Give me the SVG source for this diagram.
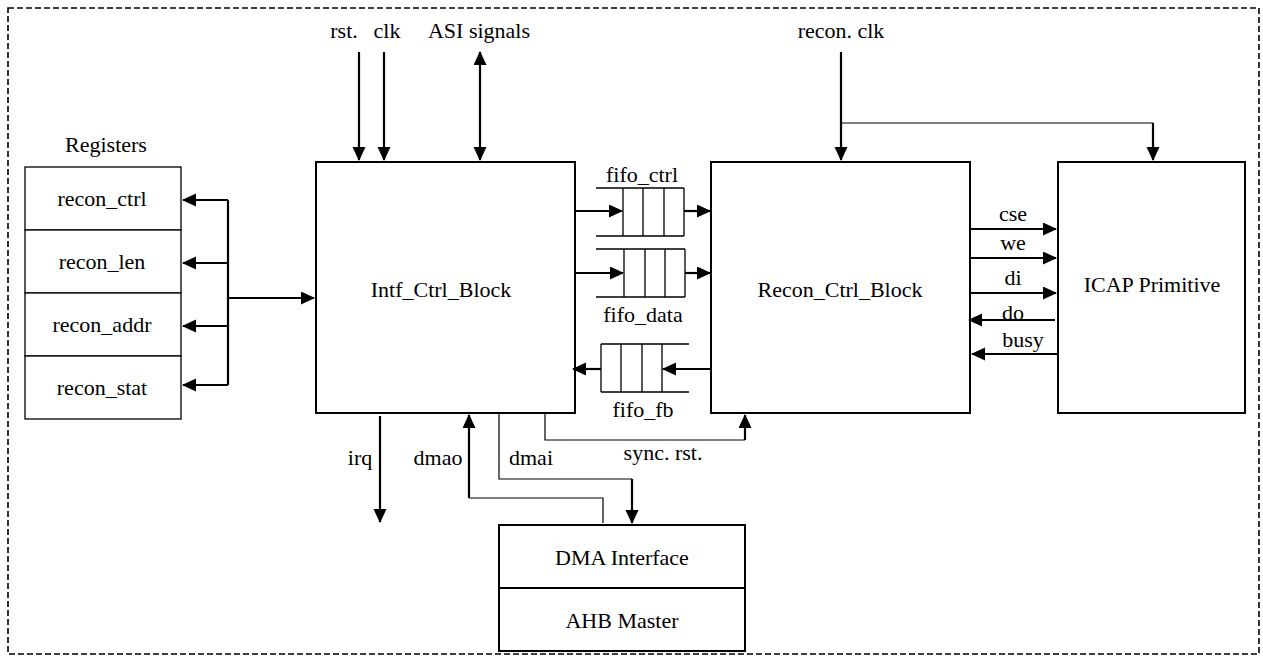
<svg xmlns="http://www.w3.org/2000/svg" width="1263" height="658" viewBox="0 0 1263 658">
<style>
text{font-family:"Liberation Serif","Times New Roman",serif;font-size:22px;fill:#000;text-anchor:middle}
.box{fill:#fff;stroke:#000;stroke-width:2}
.reg{fill:#fff;stroke:#000;stroke-width:1.3}
.fifo{fill:none;stroke:#000;stroke-width:1.3}
.thick{fill:none;stroke:#000;stroke-width:2.2}
.thin{fill:none;stroke:#000;stroke-width:1.2}
.arr{marker-end:url(#ah)}
</style>
<defs>
<marker id="ah" markerUnits="userSpaceOnUse" markerWidth="15" markerHeight="14" refX="13" refY="6.5" orient="auto-start-reverse">
<path d="M0,0 L14,6.5 L0,13 z" fill="#000"/>
</marker>
</defs>
<rect x="8" y="8" width="1251" height="646" fill="none" stroke="#000" stroke-width="1.6" stroke-dasharray="6,3"/>

<g id="registers">
<text x="106" y="152">Registers</text>
<rect class="reg" x="25" y="167" width="156" height="63"/>
<rect class="reg" x="25" y="230" width="156" height="63"/>
<rect class="reg" x="25" y="293" width="156" height="63"/>
<rect class="reg" x="25" y="356" width="156" height="63"/>
<text x="102" y="206">recon_ctrl</text>
<text x="102" y="269">recon_len</text>
<text x="102" y="332">recon_addr</text>
<text x="102" y="395">recon_stat</text>
</g>

<g id="intf_ctrl_block">
<rect class="box" x="316" y="162" width="259" height="251"/>
<text x="441" y="297">Intf_Ctrl_Block</text>
</g>

<g id="recon_ctrl_block">
<rect class="box" x="711" y="162" width="259" height="251"/>
<text x="840" y="297">Recon_Ctrl_Block</text>
</g>

<g id="icap_primitive">
<rect class="box" x="1058" y="162" width="187" height="251"/>
<text x="1152" y="292">ICAP Primitive</text>
</g>

<g id="dma">
<rect class="box" x="499" y="525" width="246" height="63"/>
<rect class="box" x="499" y="588" width="246" height="63"/>
<text x="622" y="565">DMA Interface</text>
<text x="622" y="628">AHB Master</text>
</g>

<g id="fifo_ctrl">
<text x="642" y="182">fifo_ctrl</text>
<path class="fifo" d="M596,188 H684 M596,236 H684 M623,188 V236 M643,188 V236 M664,188 V236 M684,188 V236"/>
</g>
<g id="fifo_data">
<text x="643" y="322">fifo_data</text>
<path class="fifo" d="M596,249 H685 M596,297 H685 M624,249 V297 M645,249 V297 M665,249 V297 M685,249 V297"/>
</g>
<g id="fifo_fb">
<text x="643" y="417">fifo_fb</text>
<path class="fifo" d="M601,344 H689 M601,392 H689 M601,344 V392 M621,344 V392 M642,344 V392 M662,344 V392"/>
</g>

<g id="labels">
<text x="344" y="38">rst.</text>
<text x="387" y="38">clk</text>
<text x="479" y="38">ASI signals</text>
<text x="841" y="38">recon. clk</text>
<text x="1013" y="221">cse</text>
<text x="1013" y="250">we</text>
<text x="1013" y="285">di</text>
<text x="1013" y="320">do</text>
<text x="1023" y="347">busy</text>
<text x="360" y="465">irq</text>
<text x="438" y="465">dmao</text>
<text x="531" y="465">dmai</text>
<text x="663" y="460">sync. rst.</text>
</g>

<g id="connectors">
<path class="thick arr" d="M359,52 V160"/>
<path class="thick arr" d="M384,52 V160"/>
<path class="thick arr" d="M480,52 V160" marker-start="url(#ah)"/>
<path class="thick arr" d="M841,52 V160"/>
<path class="thin" d="M841,123 H1153"/>
<path class="thick arr" d="M1153,123 V160"/>
<path class="thick" d="M228,200 V385"/>
<path class="thick arr" d="M228,200 H183"/>
<path class="thick arr" d="M228,263 H183"/>
<path class="thick arr" d="M228,326 H183"/>
<path class="thick arr" d="M228,385 H183"/>
<path class="thick arr" d="M228,298 H314"/>
<path class="thick arr" d="M575,211 H622"/>
<path class="thick arr" d="M684,211 H710"/>
<path class="thick arr" d="M575,273 H623"/>
<path class="thick arr" d="M685,273 H710"/>
<path class="thick arr" d="M711,369 H663"/>
<path class="thick arr" d="M601,369 H573"/>
<path class="thick arr" d="M970,229 H1056"/>
<path class="thick arr" d="M970,258 H1056"/>
<path class="thick arr" d="M970,293 H1056"/>
<path class="thick arr" d="M1055,320 H969"/>
<path class="thick arr" d="M1058,354 H972"/>
<path class="thick arr" d="M380,416 V522"/>
<path class="thin" d="M603,523 V498 H469"/>
<path class="thick arr" d="M469,498 V415"/>
<path class="thin" d="M499,413 V479 H632"/>
<path class="thick arr" d="M632,479 V523"/>
<path class="thin" d="M545,413 V440 H745"/>
<path class="thick arr" d="M745,440 V415"/>
</g>
</svg>
